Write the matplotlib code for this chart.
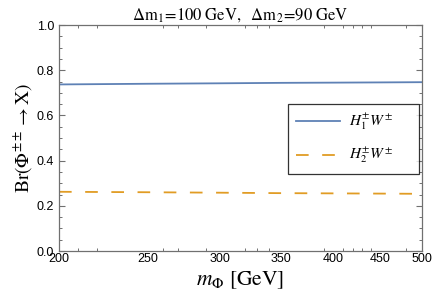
import matplotlib
matplotlib.use("Agg")
import matplotlib.pyplot as plt
from matplotlib.ticker import FixedLocator, NullFormatter

plt.rcParams['mathtext.fontset'] = 'stix'
plt.rcParams['font.family'] = ['Liberation Sans', 'DejaVu Sans']

mass = [200, 250, 300, 350, 400, 450, 500]
br_h1w = [0.737, 0.740, 0.742, 0.744, 0.745, 0.746, 0.747]
br_h2w = [0.262, 0.260, 0.258, 0.256, 0.255, 0.254, 0.253]
labels = [r"$H_1^{\pm}W^{\pm}$", r"$H_2^{\pm}W^{\pm}$"]
xticks_major = [200, 250, 300, 350, 400, 450, 500]
xticks_minor = [210, 220, 250, 260, 270, 290, 300, 320, 330, 340, 390, 410, 420, 430, 440, 450, 480]
title = r"$\Delta\mathrm{m}_1\!=\!100\ \mathrm{GeV},\ \ \Delta\mathrm{m}_2\!=\!90\ \mathrm{GeV}$"

fig = plt.figure(figsize=(4.36, 3.05), dpi=100)
ax = fig.add_axes([59/436, 1-251/305, 363/436, 226/305])

ax.plot(mass, br_h1w, color='#5E81B5', lw=1.3, label=labels[0])
ax.plot(mass, br_h2w, color='#E19C24', lw=1.3, linestyle=(0, (7.0, 7.5)), label=labels[1])

ax.set_xscale('log')
ax.set_xlim(200, 500)
ax.set_ylim(0, 1.0)
ax.xaxis.set_major_locator(FixedLocator(xticks_major))
ax.set_xticklabels([str(v) for v in xticks_major])
ax.xaxis.set_minor_locator(FixedLocator(xticks_minor))
ax.xaxis.set_minor_formatter(NullFormatter())
ax.set_yticks([0.0, 0.2, 0.4, 0.6, 0.8, 1.0])
ax.set_yticks([0.05*i for i in range(21)], minor=True)
ax.set_yticklabels(["0.0", "0.2", "0.4", "0.6", "0.8", "1.0"])

frame = '#707070'
for s in ax.spines.values():
    s.set_color(frame)
    s.set_linewidth(0.9)
ax.tick_params(axis='x', which='major', direction='in', length=0, pad=1.5, labelsize=9, colors=frame, labelcolor='black', top=True)
ax.tick_params(axis='x', which='minor', direction='in', length=2.5, width=0.7, colors=frame, top=True)
ax.tick_params(axis='y', which='major', direction='in', length=4, width=0.8, pad=3.5, labelsize=9, colors=frame, labelcolor='black', right=True)
ax.tick_params(axis='y', which='minor', direction='in', length=2.3, width=0.7, colors=frame, right=True)

ax.set_xlabel(r"$m_{\Phi}\ [\mathrm{GeV}]$", fontsize=15.5, labelpad=3)
ax.set_ylabel(r"$\mathrm{Br}(\Phi^{\pm\pm}\rightarrow\mathrm{X})$", fontsize=14, labelpad=1)
ax.set_title(title, fontsize=12, pad=4)

leg = ax.legend(loc='center left', bbox_to_anchor=(0.631, 0.345, 0.361, 0.301), mode='expand',
                fontsize=11, handlelength=2.9, labelspacing=0.9, borderpad=0.5,
                handletextpad=0.6, frameon=True, fancybox=False, borderaxespad=0)
leg.get_frame().set_edgecolor('black')
leg.get_frame().set_linewidth(0.9)

fig.savefig("out.png", dpi=100)
